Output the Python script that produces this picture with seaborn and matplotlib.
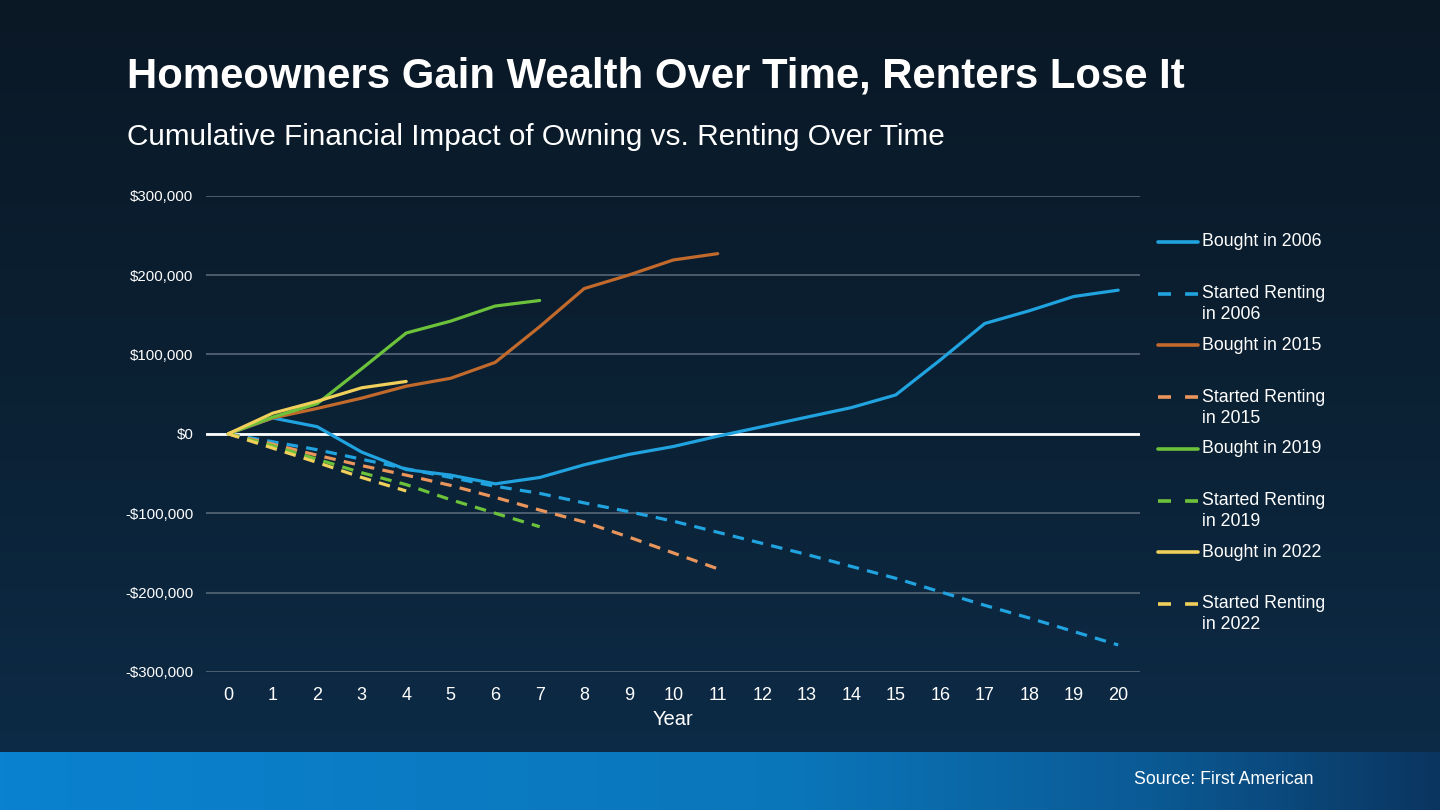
import numpy as np
import pandas as pd
import matplotlib
matplotlib.use("Agg")
import matplotlib.pyplot as plt
from matplotlib.colors import LinearSegmentedColormap
from matplotlib.lines import Line2D
from matplotlib.ticker import FuncFormatter
import seaborn as sns

# Values in thousands of dollars
years_2006 = list(range(0, 21))
bought_2006 = [0, 20, 9, -23, -45, -52, -63, -55, -39, -26, -16, -3, 9, 21, 33, 49, 93, 139, 155, 173, 181]
renting_2006 = [0, -10, -20, -32, -44, -55, -66, -75, -87, -98, -110, -124, -138, -152, -167, -182, -199, -216, -232, -249, -266]

years_2015 = list(range(0, 12))
bought_2015 = [0, 20, 32, 45, 60, 70, 90, 135, 183, 200, 219, 227]
renting_2015 = [0, -13, -27, -40, -52, -65, -80, -96, -111, -130, -150, -170]

years_2019 = list(range(0, 8))
bought_2019 = [0, 21, 38, 82, 127, 142, 161, 168]
renting_2019 = [0, -15, -32, -49, -64, -83, -100, -117]

years_2022 = list(range(0, 5))
bought_2022 = [0, 26, 41, 58, 66]
renting_2022 = [0, -18, -36, -55, -72]

labels = ["Bought in 2006", "Started Renting\nin 2006",
          "Bought in 2015", "Started Renting\nin 2015",
          "Bought in 2019", "Started Renting\nin 2019",
          "Bought in 2022", "Started Renting\nin 2022"]
colors = ["#20a3df", "#20a3df", "#c2692c", "#e9955b",
          "#6cc23a", "#6cc23a", "#f0cf5a", "#f0cf5a"]

series = [(years_2006, bought_2006), (years_2006, renting_2006),
          (years_2015, bought_2015), (years_2015, renting_2015),
          (years_2019, bought_2019), (years_2019, renting_2019),
          (years_2022, bought_2022), (years_2022, renting_2022)]

sns.set_style("dark")
plt.rcParams["font.family"] = ["Liberation Sans", "DejaVu Sans"]

fig = plt.figure(figsize=(14.4, 8.1), dpi=100)

# background gradient
bg = fig.add_axes([0, 0, 1, 1], zorder=0)
bg_cmap = LinearSegmentedColormap.from_list("bg", ["#0a1826", "#0b2134", "#0d2c49"])
bg.imshow(np.linspace(0, 1, 256).reshape(-1, 1), aspect="auto", cmap=bg_cmap,
          extent=[0, 1, 0, 1], origin="upper")
bg.axis("off")

# bottom banner
banner = fig.add_axes([0, 0, 1, 58 / 810], zorder=1)
ban_cmap = LinearSegmentedColormap.from_list(
    "ban", [(0, "#0a82cf"), (0.55, "#0b76ba"), (0.8, "#0a5a95"), (1, "#0a3560")])
banner.imshow(np.linspace(0, 1, 256).reshape(1, -1), aspect="auto", cmap=ban_cmap,
              extent=[0, 1, 0, 1])
banner.axis("off")

ax = fig.add_axes([0.143, 0.1704, 0.649, 0.588], zorder=2)
ax.patch.set_alpha(0)

ax.yaxis.grid(True, color="#5d6d7e", linewidth=1.1)
ax.xaxis.grid(False)
ax.axhline(0, color="white", linewidth=2, zorder=1.5)

for i, (xs, ys) in enumerate(series):
    ls = "-" if i % 2 == 0 else (0, (3.6, 2.6))
    sns.lineplot(x=xs, y=np.array(ys) * 1000, color=colors[i], linestyle=ls,
                 linewidth=2.3, errorbar=None, ax=ax, zorder=3)

ax.set_xlim(-0.5, 20.5)
ax.set_ylim(-300000, 300000)
ax.set_xticks(range(0, 21))
ax.set_yticks(range(-300000, 300001, 100000))
ax.yaxis.set_major_formatter(FuncFormatter(
    lambda v, p: f"-${abs(v):,.0f}" if v < 0 else f"${v:,.0f}"))
ax.tick_params(axis="x", length=0, pad=11, labelsize=13, labelcolor="white")
ax.tick_params(axis="y", length=0, pad=9, labelsize=10.8, labelcolor="white")
ax.set_xlabel("Year", color="white", fontsize=14.5, labelpad=4)
ax.set_ylabel("")
for s in ax.spines.values():
    s.set_visible(False)

# legend, one slot per series, handle next to first line of the label
W, H = 1440, 810
for i, lab in enumerate(labels):
    yc = 242 + i * 51.7
    ls = "-" if i % 2 == 0 else (0, (3.6, 3.9))
    fig.add_artist(Line2D([1158 / W, 1198 / W], [1 - yc / H, 1 - yc / H],
                          color=colors[i], linewidth=2.6, linestyle=ls))
    for k, line in enumerate(lab.split("\n")):
        fig.text(1202 / W, 1 - (yc + k * 21) / H, line, color="white",
                 fontsize=12.8, va="center", ha="left")

fig.text(127 / W, 1 - 77 / H, "Homeowners Gain Wealth Over Time, Renters Lose It",
         color="white", fontsize=30.2, fontweight="bold", va="center", ha="left")
fig.text(127 / W, 1 - 137 / H, "Cumulative Financial Impact of Owning vs. Renting Over Time",
         color="white", fontsize=21.4, va="center", ha="left")
fig.text(1313 / W, 1 - 780 / H, "Source: First American", color="white",
         fontsize=12.8, va="center", ha="right", zorder=5)

fig.savefig("out.png", dpi=100)
